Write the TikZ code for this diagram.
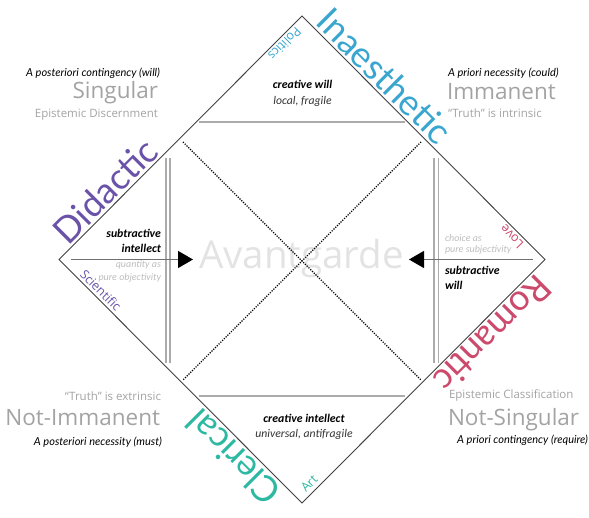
\documentclass[tikz,border=0pt]{standalone}
\usepackage{fontspec}
\setmainfont{Lato}
\newfontfamily\innerfont{Carlito}
\newfontfamily\osfont{Open Sans}
\usetikzlibrary{arrows.meta}
\definecolor{cblue}{HTML}{3AA6CF}
\definecolor{cpurple}{HTML}{6A52A8}
\definecolor{cred}{HTML}{CC4A6C}
\definecolor{cteal}{HTML}{2DB9A1}
\definecolor{tgray}{HTML}{A3A3A3}
\definecolor{lgray}{HTML}{BDBDBD}
\definecolor{vlgray}{HTML}{E3E3E3}
\definecolor{edgec}{HTML}{404040}
\definecolor{linegray}{HTML}{ABABAB}
\definecolor{arrowgray}{HTML}{707070}
\begin{document}
\begin{tikzpicture}[x=1pt,y=1pt,inner sep=0pt,outer sep=0pt,
  edgeline/.style={draw=edgec,line width=0.9pt},
  hline/.style={draw=linegray,line width=2pt},
  vline/.style={draw=linegray,line width=1.6pt},
  dotline/.style={draw=black,line width=1.1pt,dash pattern=on 1.2pt off 1.3pt},
  arrowline/.style={draw=arrowgray,line width=1.4pt,-{Triangle[length=15pt,width=17pt,color=black]}},
  bigedge/.style={font=\fontsize{36}{36}\selectfont,anchor=base},
  smalledge/.style={font=\fontsize{12.5}{12.5}\selectfont\osfont,anchor=base},
  cornerit/.style={font=\fontsize{11}{11}\selectfont\itshape,text=black},
  cornerbig/.style={font=\fontsize{22.5}{22.5}\selectfont\osfont,text=tgray},
  cornersub/.style={font=\fontsize{11.5}{11.5}\selectfont\osfont,text=tgray},
  innerbold/.style={font=\fontsize{11.8}{11.8}\selectfont\innerfont\bfseries\itshape,text=black},
  innerit/.style={font=\fontsize{11.7}{11.7}\selectfont\innerfont\itshape,text=black!80},
  innerlight/.style={font=\fontsize{10}{10}\selectfont\innerfont\itshape,text=lgray}]
\useasboundingbox (0,0) rectangle (589,517);
% diamond
\coordinate (T) at (302,501);
\coordinate (R) at (545,257.5);
\coordinate (B) at (302,14);
\coordinate (L) at (59,257.5);
% background title
\node[font=\fontsize{38.5}{38.5}\selectfont\osfont,text=vlgray,anchor=base] (avant) at (301.5,248.5) {Avantgarde};
% horizontal lines
\coordinate (h1a) at (199,395.3);
\coordinate (h1b) at (405,395.3);
\coordinate (h2a) at (199,121);
\coordinate (h2b) at (405,121);
\draw[hline] (h1a) -- (h1b);
\draw[hline] (h2a) -- (h2b);
% vertical double lines
\coordinate (v1a) at (165.7,359);
\coordinate (v1b) at (165.7,154);
\coordinate (v2a) at (170.2,359);
\coordinate (v2b) at (170.2,154);
\coordinate (v3a) at (433.8,359);
\coordinate (v3b) at (433.8,154);
\coordinate (v4a) at (438.3,359);
\coordinate (v4b) at (438.3,154);
\draw[vline] (v1a) -- (v1b);
\draw[vline] (v2a) -- (v2b);
\draw[vline] (v3a) -- (v3b);
\draw[vline] (v4a) -- (v4b);
% dotted X
\coordinate (d1) at (183,375);
\coordinate (d2) at (421,137);
\coordinate (d3) at (421,375);
\coordinate (d4) at (183,137);
\draw[dotline] (d1) -- (d2);
\draw[dotline] (d3) -- (d4);
% arrows
\coordinate (la) at (71,257.5);
\coordinate (lb) at (193,257.5);
\coordinate (ra) at (533,257.5);
\coordinate (rb) at (409,257.5);
\draw[arrowline] (la) -- (lb);
\draw[arrowline] (ra) -- (rb);
% diamond outline
\draw[edgeline] (T) -- (R) -- (B) -- (L) -- cycle;
% big edge labels
\node[bigedge,text=cblue,rotate=-45] (inaes) at (375.5,431.7) {Inaesthetic};
\node[bigedge,text=cpurple,rotate=45] (didac) at (114.2,316.9) {Didactic};
\node[bigedge,text=cred,rotate=225] (roman) at (483.5,191.8) {Romantic};
\node[bigedge,text=cteal,rotate=135] (cleri) at (242.6,69.2) {Clerical};
% small edge labels
\node[smalledge,text=cblue,rotate=225] (polit) at (281.5,476.3) {Politics};
\node[smalledge,text=cred,rotate=135] (love) at (514.9,283.4) {Love};
\node[smalledge,text=cpurple,rotate=-45] (scien) at (97.6,223.1) {Scientific};
\node[smalledge,text=cteal,rotate=45] (art) at (312.3,30.5) {Art};
% top-left corner
\node[cornerit,anchor=base east] (tl1) at (160,440.5) {A posteriori contingency (will)};
\node[cornerbig,anchor=base east] (tl2) at (158,418) {Singular};
\node[cornersub,anchor=base east] (tl3) at (158,399) {Epistemic Discernment};
% top-right corner
\node[cornerit,anchor=base west] (tr1) at (448,440.5) {A priori necessity (could)};
\node[cornerbig,anchor=base west] (tr2) at (447,417) {Immanent};
\node[cornersub,anchor=base west] (tr3) at (448,399) {“Truth” is intrinsic};
% bottom-left corner
\node[cornersub,anchor=base east] (bl1) at (161,117) {“Truth” is extrinsic};
\node[cornerbig,anchor=base east] (bl2) at (160,92) {Not-Immanent};
\node[cornerit,anchor=base east] (bl3) at (162,71) {A posteriori necessity (must)};
% bottom-right corner
\node[cornersub,anchor=base west] (br1) at (449,118) {Epistemic Classification};
\node[cornerbig,anchor=base west] (br2) at (448,92) {Not-Singular};
\node[cornerit,anchor=base east] (br3) at (588,74) {A priori contingency (require)};
% inner texts
\node[innerbold,anchor=base] (cw1) at (302.5,428) {creative will};
\node[innerit,anchor=base] (cw2) at (302.5,412.5) {local, fragile};
\node[innerbold,anchor=base] (ci1) at (304,94.5) {creative intellect};
\node[innerit,anchor=base] (ci2) at (304,80) {universal, antifragile};
\node[innerbold,anchor=base east] (si1) at (161,279.5) {subtractive};
\node[innerbold,anchor=base east] (si2) at (161,264) {intellect};
\node[innerlight,anchor=base east] (si3) at (161,249) {quantity as};
\node[innerlight,anchor=base east] (si4) at (161,236) {pure objectivity};
\node[innerlight,anchor=base west] (sw3) at (445,275.3) {choice as};
\node[innerlight,anchor=base west] (sw4) at (445,264) {pure subjectivity};
\node[innerbold,anchor=base west] (sw1) at (445,242) {subtractive};
\node[innerbold,anchor=base west] (sw2) at (445,227) {will};
\end{tikzpicture}
\end{document}
